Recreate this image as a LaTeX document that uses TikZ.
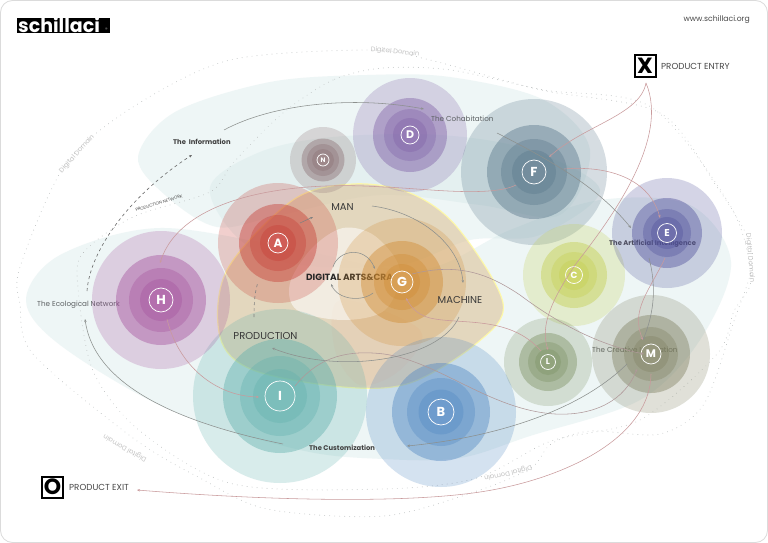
\documentclass[tikz,border=0pt]{standalone}
\usepackage{fontspec}
\setmainfont{Poppins}
\usetikzlibrary{arrows.meta}
\definecolor{pinkline}{HTML}{C99A9C}
\definecolor{greyline}{HTML}{8C908E}
\definecolor{dotline}{HTML}{BCC0C0}
\definecolor{blobcol}{HTML}{D4E8E8}
\definecolor{labelgrey}{HTML}{5C6062}
\definecolor{colN}{HTML}{8A6F72}
\definecolor{colD}{HTML}{7E5EA6}
\definecolor{colF}{HTML}{557488}
\definecolor{colA}{HTML}{C63A32}
\definecolor{colG}{HTML}{D08A30}
\definecolor{colC}{HTML}{C4CE4C}
\definecolor{colE}{HTML}{4F4F9A}
\definecolor{colL}{HTML}{7A9060}
\definecolor{colM}{HTML}{7F8060}
\definecolor{colB}{HTML}{4F86C2}
\definecolor{colI}{HTML}{5FB0AC}
\definecolor{colH}{HTML}{A44F9C}
\definecolor{colCore}{HTML}{DDC49C}
\newcommand{\fs}[1]{\fontsize{#1}{#1}\selectfont}
\newcommand{\targetdisc}[9]{%
  % name, x, y, colour, r1, r2, r3, r4, ring radius
  \fill[#4,fill opacity=.24] (#2,#3) circle[radius=#5];
  \fill[#4,fill opacity=.42] (#2,#3) circle[radius=#6];
  \fill[#4,fill opacity=.34] (#2,#3) circle[radius=#7];
  \fill[#4,fill opacity=.34] (#2,#3) circle[radius=#8];
  \node[ringnode,fill=#4!82!white,minimum size=#9*2pt] (#1) at (#2,#3) {};
}
\tikzset{
  ringlabel/.style={text=white,font=\bfseries\fs{#1}},
  ringnode/.style={circle,draw=white,line width=.7pt,inner sep=0pt},
  pinkarrow/.style={draw=pinkline,line width=.55pt,-{Stealth[length=3pt,width=2.4pt]}},
  greyarrow/.style={draw=greyline,line width=.55pt,-{Stealth[length=3pt,width=2.4pt]}},
  domainline/.style={draw=dotline,line width=.9pt,dash pattern=on .01pt off 5pt,line cap=round},
  domainlabel/.style={text=black!24,font=\fs{6.6}},
  blob/.style={fill=blobcol,fill opacity=.38},
  caption/.style={text=labelgrey,font=\fs{7.2},inner sep=0pt},
  boldcaption/.style={text=black!75,font=\bfseries\fs{6.8},inner sep=0pt},
  keyword/.style={text=black!78,font=\fs{10},inner sep=0pt},
  boxmark/.style={draw=black,line width=2pt,fill=white,minimum size=21pt,inner sep=0pt,font=\bfseries\fs{22}},
  marklabel/.style={anchor=west,text=black!72,font=\fs{8.7},inner sep=0pt},
}
\begin{document}
\begin{tikzpicture}[x=1pt,y=-1pt]
\useasboundingbox (0,0) rectangle (768,543);
\fill[white] (0,0) rectangle (768,543);
\draw[black!14,line width=.8pt,rounded corners=12pt] (.5,.5) rectangle (767.5,542.5);

% background blobs
\fill[blob] plot[smooth cycle,tension=.55] coordinates {(138,157) (175,112) (270,82) (367,75) (450,77) (544,100) (590,150) (560,215) (480,205) (380,195) (280,215) (217,227) (165,195)};
\fill[blob] plot[smooth cycle,tension=.55] coordinates {(210,187) (260,152) (333,137) (440,135) (530,150) (600,190) (540,235) (470,240) (400,265) (300,265) (240,240)};
\fill[blob] plot[smooth cycle,tension=.55] coordinates {(26,300) (60,255) (160,228) (300,250) (420,270) (510,230) (600,200) (690,205) (731,262) (700,340) (640,400) (530,436) (460,458) (383,459) (300,450) (170,410) (60,345)};

% domain lines
\draw[domainline] plot[smooth cycle,tension=.5] coordinates {(20,267) (65,165) (133,107) (230,60) (370,50) (430,60) (541,90) (660,113) (717,187) (749,240) (751,271) (734,321) (704,404) (660,434) (590,431) (551,444) (531,468) (477,491) (384,516) (267,509) (200,478) (133,438) (33,354) (20,304)};
\draw[domainline] plot[smooth cycle,tension=.5] coordinates {(383,68) (333,80) (283,113) (233,163) (210,192) (133,217) (83,253) (78,288) (93,371) (140,431) (233,484) (383,489) (477,478) (551,441) (640,420) (717,354) (734,311) (751,278) (731,207) (651,107) (544,90) (451,70)};

\node[domainlabel,rotate=48] (dd1) at (77,154) {Digital Domain};
\node[domainlabel,rotate=-6] (dd2) at (395,52) {Digital Domain};
\node[domainlabel,rotate=-85] (dd3) at (750,258) {Digital Domain};
\node[domainlabel,rotate=150] (dd4) at (125,448) {Digital Domain};
\node[domainlabel,rotate=193] (dd5) at (508,473) {Digital Domain};
\node[text=black!70,font=\fs{4.3},rotate=17,inner sep=0pt] (pnet) at (159,203) {PRODUCTION NETWORK};

% central blob
\fill[red!45!white,fill opacity=.14] plot[smooth cycle,tension=.55] coordinates {(340,300) (420,330) (400,370) (360,385) (335,350)};
\path[draw=yellow!35!white,line width=1.2pt,fill=colCore,fill opacity=.62,draw opacity=.9] plot[smooth cycle,tension=.55] coordinates {(353,184) (410,193) (457,227) (503,303) (477,343) (410,383) (343,387) (253,370) (220,337) (227,270) (293,200)};
\fill[white,fill opacity=.55] plot[smooth cycle,tension=.55] coordinates {(343,228) (375,236) (400,270) (385,310) (343,320) (297,310) (290,283) (312,248)};

% discs and captions that lie below them
\targetdisc{n}{323}{160}{colN}{33}{21.5}{16}{11}{6}
\targetdisc{d}{410}{135}{colD}{57}{37}{26}{17}{9}
\targetdisc{f}{534}{172}{colF}{73}{47}{33}{22}{12}
\targetdisc{a}{278}{243}{colA}{60}{39}{28}{18}{10}
\node[anchor=west,text=black!85,font=\bfseries\fs{9},inner sep=0pt] (dac) at (306,277) {DIGITAL ARTS\&CRA};
\targetdisc{g}{402}{282}{colG}{64}{41}{28}{18}{11}
\targetdisc{c}{574}{275}{colC}{51}{33}{23}{15}{8.5}
\node[boldcaption,text=black!70,anchor=west] (ai) at (609,244) {The Artificial Intelligence};
\targetdisc{e}{667}{233}{colE}{55}{35}{24}{16}{9.5}
\targetdisc{l}{548}{362}{colL}{44}{29}{20}{13}{7.5}
\node[caption,anchor=west] (ci) at (592,350) {The Creative Innovation};
\targetdisc{m}{651}{354}{colM}{59}{39}{27}{18}{10}
\targetdisc{b}{441}{412}{colB}{75}{49}{34}{22.5}{13}
\targetdisc{i}{280}{396}{colI}{87}{57}{40}{27}{15}
\node[caption,anchor=west] (eco) at (37,305) {The Ecological Network};
\targetdisc{h}{161}{300}{colH}{69}{45}{32}{21}{12}

% disc letters
\node[ringlabel=12] at (a) {A};
\node[ringlabel=13] at (b) {B};
\node[ringlabel=9] at (c) {C};
\node[ringlabel=11] at (d) {D};
\node[ringlabel=10] at (e) {E};
\node[ringlabel=13] at (f) {F};
\node[ringlabel=13] at (g) {G};
\node[ringlabel=13] at (h) {H};
\node[ringlabel=13] at (i) {I};
\node[ringlabel=8.5] at (l) {L};
\node[ringlabel=11] at (m) {M};
\node[ringlabel=6.5] at (n) {N};

% captions
\node[boldcaption,anchor=west] (info) at (173,142) {The\ \ Information};
\node[caption,anchor=west] (coh) at (431,119) {The Cohabitation};
\node[boldcaption,anchor=west] (cust) at (309,448) {The Customization};
\node[keyword] (man) at (342.5,207) {MAN};
\node[keyword] (prod) at (265.5,336) {PRODUCTION};
\node[keyword] (mach) at (460,300) {MACHINE};

% entry and exit marks
\node[boxmark] (entry) at (645,66) {X};
\node[boxmark] (exit) at (52.5,487) {O};
\node[marklabel] (entrylab) at (661,66) {PRODUCT ENTRY};
\node[marklabel] (exitlab) at (69,487) {PRODUCT EXIT};
\node[anchor=east,text=black!72,font=\fs{7.7},inner sep=0pt] (web) at (750,20) {www.schillaci.org};

% logo
\fill[black] (17,18) rectangle (110,33);
\begin{scope}
\clip (17,18) rectangle (110,33);
\node[anchor=base west,text=white,font=\bfseries\fs{19},inner sep=0pt] (logo) at (18,33) {schillaci};
\end{scope}
\node[text=black!45!white,font=\fs{5},inner sep=0pt] (reg) at (106.5,29.5) {®};

% connector ends
\coordinate (e1) at (646,83);
\coordinate (fin) at (549,157);
\coordinate (lin) at (548,350);
\coordinate (fout) at (564,169);
\coordinate (ein) at (660,218);
\coordinate (eout) at (665,258);
\coordinate (min) at (643,340);
\coordinate (mout) at (651,374);
\coordinate (exitend) at (137,490);
\coordinate (fl) at (516,185);
\coordinate (hin) at (160,263);
\coordinate (hout) at (167,319);
\coordinate (iin) at (259,397);
\coordinate (lout) at (541,351);
\coordinate (gin) at (406,298);
\coordinate (gout) at (412,274);
\coordinate (mw) at (644,354);
\coordinate (iout) at (295,386);
\coordinate (mlow) at (637,369);
\coordinate (infoend) at (224,130);
\coordinate (dend) at (424,109);
\coordinate (fstart) at (497,133);
\coordinate (eleft) at (631,228);
\coordinate (eb) at (649,258);
\coordinate (msw) at (627,364);
\coordinate (bin) at (407,446);
\coordinate (manend) at (372,206);
\coordinate (machtop) at (463,283);
\coordinate (machlow) at (459,317);
\coordinate (prodend) at (272,348);
\coordinate (prodtop) at (254,317);
\coordinate (atop) at (258,282);
\coordinate (atail) at (300,223);
\coordinate (manin) at (313,217);
\coordinate (cb) at (373,293);
\coordinate (cl) at (331,284);
\coordinate (ct) at (333,267);
\coordinate (cr) at (375,269);
\coordinate (netend) at (192,155);
\coordinate (netstart) at (87,291);
\coordinate (custend) at (283,444);
\coordinate (ecoend) at (85,319);

% pink connectors
\draw[pinkarrow] (e1) .. controls (640,115) and (585,125) .. (fin);
\draw[pinkarrow] (e1) .. controls (670,140) and (610,220) .. (575,265) .. controls (552,300) and (540,325) .. (lin);
\draw[pinkarrow] (fout) .. controls (610,165) and (650,180) .. (ein);
\draw[pinkarrow] (eout) .. controls (650,290) and (630,310) .. (min);
\draw[pinkarrow] (mout) .. controls (650,440) and (560,480) .. (480,492) .. controls (400,504) and (260,500) .. (exitend);
\draw[pinkarrow] (fl) .. controls (490,198) and (420,188) .. (383,187) .. controls (280,180) and (180,200) .. (hin);
\draw[pinkarrow] (hout) .. controls (178,365) and (215,396) .. (iin);
\draw[pinkarrow] (lout) .. controls (510,315) and (460,325) .. (430,318) .. controls (415,314) and (410,305) .. (gin);
\draw[pinkarrow,draw=pinkline!70!black!70] (gout) .. controls (460,262) and (490,275) .. (520,295) .. controls (560,325) and (600,345) .. (mw);
\draw[pinkarrow,draw=pinkline!70!black!70] (iout) .. controls (320,355) and (350,350) .. (384,354) .. controls (440,362) and (490,410) .. (555,414) .. controls (595,416) and (625,400) .. (mlow);

% grey connectors
\draw[greyarrow] (infoend) .. controls (270,105) and (350,95) .. (dend);
\draw[greyarrow] (fstart) .. controls (560,165) and (600,190) .. (eleft);
\draw[greyarrow] (eb) .. controls (656,285) and (655,310) .. (min);
\draw[greyarrow] (msw) .. controls (570,420) and (470,440) .. (bin);
\draw[greyarrow] (manend) .. controls (420,212) and (460,245) .. (machtop);
\draw[greyarrow] (machlow) .. controls (440,360) and (340,375) .. (prodend);
\draw[greyarrow,-,dashed,draw=black!50,line width=.6pt] (prodtop) .. controls (254,300) and (255,292) .. (atop);
\draw[greyarrow,draw=black!50] (atail) -- (manin);
\draw[greyarrow] (cb) .. controls (362,302) and (338,300) .. (cl);
\draw[greyarrow] (ct) .. controls (338,250) and (365,245) .. (cr);
\draw[greyarrow,dashed,draw=black!60,line width=.6pt] (netstart) .. controls (90,250) and (130,195) .. (netend);
\draw[greyarrow] (custend) .. controls (190,425) and (95,390) .. (ecoend);
\end{tikzpicture}
\end{document}
